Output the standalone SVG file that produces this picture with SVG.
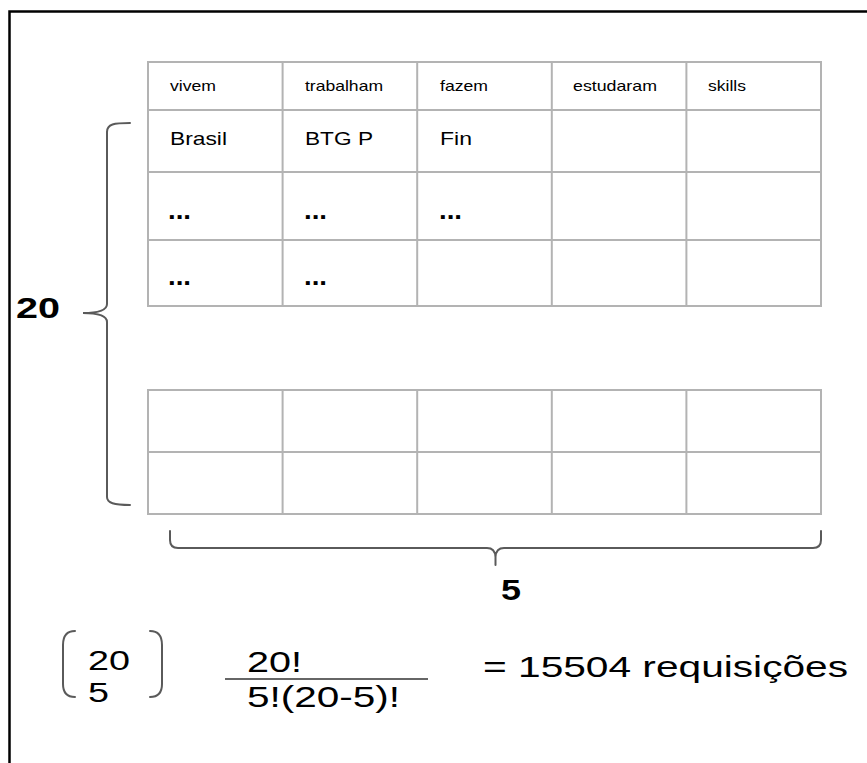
<svg xmlns="http://www.w3.org/2000/svg" width="867" height="763" viewBox="0 0 867 763">
<style>
.grid{fill:none;stroke:#b3b3b3;stroke-width:2}
.br{fill:none;stroke:#5a5a5a;stroke-width:2;stroke-linecap:round}
.t{font-family:"Liberation Sans",Arial,sans-serif;fill:#000}
.hd{font-size:14.5px}
.cell{font-size:19px}
.dots{font-size:26px;font-weight:bold}
.big{font-size:29px;font-weight:bold}
.fx{font-size:30px}
.bin{font-size:27px}
</style>
<rect width="867" height="763" fill="#fff"/>
<path d="M9.5,763 V11.5 H867" fill="none" stroke="#000" stroke-width="2.5"/>

<g id="table-top">
  <path class="grid" d="M148,62 H821 V306 H148 Z M148,110 H821 M148,172 H821 M148,240 H821 M282.6,62 V306 M417.2,62 V306 M551.8,62 V306 M686.4,62 V306"/>
  <text class="t hd" x="170" y="91" textLength="46" lengthAdjust="spacingAndGlyphs">vivem</text>
  <text class="t hd" x="305" y="91" textLength="78" lengthAdjust="spacingAndGlyphs">trabalham</text>
  <text class="t hd" x="440" y="91" textLength="48" lengthAdjust="spacingAndGlyphs">fazem</text>
  <text class="t hd" x="573" y="91" textLength="84" lengthAdjust="spacingAndGlyphs">estudaram</text>
  <text class="t hd" x="708" y="91" textLength="38" lengthAdjust="spacingAndGlyphs">skills</text>
  <text class="t cell" x="170" y="145" textLength="57" lengthAdjust="spacingAndGlyphs">Brasil</text>
  <text class="t cell" x="305" y="145" textLength="68" lengthAdjust="spacingAndGlyphs">BTG P</text>
  <text class="t cell" x="440" y="145" textLength="32" lengthAdjust="spacingAndGlyphs">Fin</text>
  <text class="t dots" x="168" y="219" textLength="23" lengthAdjust="spacingAndGlyphs">...</text>
  <text class="t dots" x="304" y="219" textLength="23" lengthAdjust="spacingAndGlyphs">...</text>
  <text class="t dots" x="439" y="219" textLength="23" lengthAdjust="spacingAndGlyphs">...</text>
  <text class="t dots" x="168" y="285" textLength="23" lengthAdjust="spacingAndGlyphs">...</text>
  <text class="t dots" x="304" y="285" textLength="23" lengthAdjust="spacingAndGlyphs">...</text>
</g>

<g id="table-bottom">
  <path class="grid" d="M148,390 H821 V514 H148 Z M148,452 H821 M282.6,390 V514 M417.2,390 V514 M551.8,390 V514 M686.4,390 V514"/>
</g>

<g id="connectors">
  <path class="br" d="M130,123 C114,123 107,124 107,132 V304 C107,310 100,313 83,313 C100,313 107,316 107,322 V497 C107,503 114,505 130,505"/>
  <path class="br" d="M170,531 V540 Q170,548 178,548 H487 Q495,548 495.5,557 V565 M495.5,557 Q496,548 504,548 H813 Q821,548 821,540 V531"/>
</g>

<g id="label-20">
  <text class="t big" x="16" y="318" textLength="44" lengthAdjust="spacingAndGlyphs">20</text>
</g>
<g id="label-5">
  <text class="t big" x="501" y="600" textLength="20" lengthAdjust="spacingAndGlyphs">5</text>
</g>

<g id="formula">
  <path class="br" d="M75,631 Q63,631 63,645 V684 Q63,697 75,697"/>
  <path class="br" d="M150,631 Q162,631 162,645 V684 Q162,697 150,697"/>
  <text class="t bin" x="88" y="670" textLength="42" lengthAdjust="spacingAndGlyphs">20</text>
  <text class="t bin" x="88" y="702" textLength="21" lengthAdjust="spacingAndGlyphs">5</text>
  <text class="t fx" x="247" y="672" textLength="55" lengthAdjust="spacingAndGlyphs">20!</text>
  <line x1="225" y1="679" x2="428" y2="679" stroke="#666" stroke-width="2"/>
  <text class="t fx" x="247" y="707" textLength="153" lengthAdjust="spacingAndGlyphs">5!(20-5)!</text>
  <text class="t fx" x="483" y="677" textLength="365" lengthAdjust="spacingAndGlyphs">= 15504 requisições</text>
</g>
</svg>
